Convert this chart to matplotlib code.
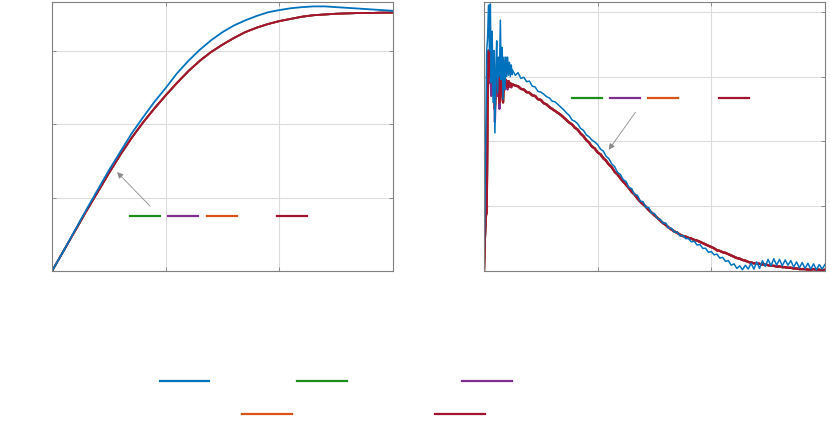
import numpy as np
import matplotlib
matplotlib.use('Agg')
import matplotlib.pyplot as plt
from matplotlib.lines import Line2D

# colours (MATLAB default order)
c_blue = '#0072BD'
c_green = '#1A8F1A'
c_purple = '#7E2F8E'
c_orange = '#D95319'
c_red = '#A2142F'
c_axis = '#808080'
c_grid = '#DCDCDC'

# ---- left panel: smooth step responses ----
t_left = np.round(np.arange(0, 3.01, 0.1), 2)
blue_left = [0.00, 0.27, 0.55, 0.83, 1.10, 1.37, 1.62, 1.87, 2.09, 2.30,
             2.49, 2.69, 2.86, 3.01, 3.14, 3.25, 3.34, 3.41, 3.47, 3.52,
             3.55, 3.575, 3.59, 3.60, 3.60, 3.59, 3.58, 3.57, 3.56, 3.55, 3.54]
red_left = [0.00, 0.27, 0.54, 0.81, 1.07, 1.33, 1.58, 1.81, 2.02, 2.21,
            2.39, 2.56, 2.72, 2.86, 2.98, 3.08, 3.17, 3.25, 3.31, 3.36,
            3.40, 3.43, 3.46, 3.48, 3.49, 3.50, 3.505, 3.51, 3.51, 3.515, 3.515]

# ---- right panel: noisy decay ----
t_early = np.round(np.arange(0, 0.249, 0.008), 3)
t_late = np.round(np.arange(0.25, 3.001, 0.025), 3)
t_right = np.concatenate([t_early, t_late])

blue_early = [0.0, 0.9, 2.2, 3.4, 3.6, 4.1, 3.4, 4.12, 2.9, 3.7,
              2.6, 3.4, 2.13, 3.1, 3.55, 2.75, 3.3, 3.0, 3.87, 2.95,
              3.45, 2.65, 3.3, 2.8, 3.3, 3.0, 3.3, 3.02, 3.22, 3.0,
              3.18, 3.03]
red_early = [0.0, 0.5, 0.85, 0.9, 2.6, 3.4, 3.0, 3.5, 2.9, 3.3,
             2.9, 3.2, 2.5, 2.9, 3.1, 2.75, 3.0, 2.6, 3.0, 2.9,
             2.75, 2.6, 2.95, 2.85, 2.95, 2.92, 2.83, 2.93, 2.86, 2.9,
             2.84, 2.88]
purple_early = [0.0, 0.5, 0.8, 1.0, 2.5, 3.3, 2.9, 3.4, 2.7, 3.2,
                2.8, 3.1, 2.3, 2.8, 3.0, 2.7, 2.95, 2.5, 2.95, 2.85,
                2.7, 2.75, 2.9, 2.8, 2.9, 2.87, 2.8, 2.9, 2.84, 2.88,
                2.83, 2.87]

blue_late = [3.10, 3.02, 3.06, 2.97, 2.99, 2.92, 2.93, 2.85, 2.84, 2.77,
             2.76, 2.73, 2.69, 2.67, 2.62, 2.61, 2.57, 2.53, 2.49, 2.44,
             2.40, 2.33, 2.31, 2.27, 2.20, 2.17, 2.10, 2.07, 2.02, 1.99,
             1.95, 1.88, 1.85, 1.77, 1.73, 1.65, 1.61, 1.52, 1.49, 1.41,
             1.38, 1.29, 1.27, 1.18, 1.17, 1.08, 1.07, 0.98, 0.98, 0.89,
             0.89, 0.81, 0.80, 0.74, 0.74, 0.66, 0.66, 0.60, 0.60, 0.54,
             0.55, 0.50, 0.50, 0.45, 0.46, 0.40, 0.41, 0.35, 0.35, 0.29,
             0.30, 0.25, 0.26, 0.20, 0.21, 0.15, 0.16, 0.09, 0.11, 0.04,
             0.08, 0.02, 0.09, 0.03, 0.12, 0.03, 0.14, 0.04, 0.16, 0.07,
             0.18, 0.08, 0.19, 0.09, 0.18, 0.08, 0.17, 0.09, 0.16, 0.06,
             0.14, 0.05, 0.13, 0.04, 0.12, 0.03, 0.11, 0.02, 0.10, 0.03, 0.10]
red_late = [2.88, 2.86, 2.85, 2.81, 2.80, 2.76, 2.75, 2.71, 2.70, 2.65,
            2.64, 2.59, 2.57, 2.53, 2.50, 2.47, 2.44, 2.41, 2.37, 2.33,
            2.29, 2.26, 2.21, 2.18, 2.12, 2.08, 2.02, 1.98, 1.92, 1.89,
            1.83, 1.80, 1.74, 1.70, 1.64, 1.60, 1.53, 1.49, 1.43, 1.38,
            1.33, 1.28, 1.22, 1.18, 1.12, 1.07, 1.03, 0.99, 0.94, 0.90,
            0.86, 0.82, 0.78, 0.74, 0.71, 0.67, 0.64, 0.61, 0.59, 0.56,
            0.54, 0.53, 0.51, 0.50, 0.48, 0.47, 0.45, 0.43, 0.41, 0.39,
            0.37, 0.35, 0.32, 0.31, 0.29, 0.28, 0.26, 0.24, 0.22, 0.20,
            0.19, 0.17, 0.16, 0.14, 0.13, 0.12, 0.12, 0.11, 0.10, 0.10,
            0.09, 0.08, 0.08, 0.07, 0.07, 0.06, 0.06, 0.05, 0.05, 0.04,
            0.04, 0.03, 0.03, 0.03, 0.02, 0.02, 0.03, 0.02, 0.02, 0.01, 0.02]

blue_right = blue_early + blue_late
red_right = red_early + red_late
purple_right = purple_early + red_late


def style_axes(ax, xmax, ymax, yticks):
    ax.set_xlim(0, xmax)
    ax.set_ylim(0, ymax)
    ax.set_xticks([0, 1, 2, 3])
    ax.set_yticks(yticks)
    ax.set_xticklabels([])
    ax.set_yticklabels([])
    ax.grid(True, color=c_grid, linewidth=0.8)
    ax.set_axisbelow(True)
    ax.tick_params(direction='in', length=3, color=c_axis, width=0.6,
                   top=True, right=True)
    for s in ax.spines.values():
        s.set_color(c_axis)
        s.set_linewidth(0.8)


def inline_key(ax, y, spans, colors):
    for (x0, x1), c in zip(spans, colors):
        ax.add_line(Line2D([x0, x1], [y, y], transform=ax.transAxes,
                           color=c, linewidth=1.6, clip_on=False))


fig = plt.figure(figsize=(8.3, 4.23), dpi=100)
ax1 = fig.add_axes([0.0627, 0.3593, 0.4108, 0.636])
ax2 = fig.add_axes([0.5831, 0.3593, 0.4108, 0.636])

# left
ax1.plot(t_left, red_left, color=c_green, linewidth=1.3)
ax1.plot(t_left, red_left, color=c_purple, linewidth=1.3)
ax1.plot(t_left, red_left, color=c_orange, linewidth=1.3)
ax1.plot(t_left, red_left, color=c_red, linewidth=1.3)
ax1.plot(t_left, blue_left, color=c_blue, linewidth=1.3)
style_axes(ax1, 3, 3.66, [0, 1, 2, 3])
ax1.annotate('', xy=(0.185, 0.375), xytext=(0.293, 0.234),
             xycoords='axes fraction', textcoords='axes fraction',
             arrowprops=dict(arrowstyle='-|>', color='#8a8a8a', lw=0.6,
                             mutation_scale=9))
inline_key(ax1, 0.2045,
           [(0.229, 0.317), (0.340, 0.428), (0.4545, 0.5425), (0.660, 0.748)],
           [c_green, c_purple, c_orange, c_red])

# right
ax2.plot(t_right, red_right, color=c_green, linewidth=1.6)
ax2.plot(t_right, purple_right, color=c_purple, linewidth=1.6)
ax2.plot(t_right, red_right, color=c_orange, linewidth=1.6)
ax2.plot(t_right, red_right, color=c_red, linewidth=1.6)
ax2.plot(t_right, blue_right, color=c_blue, linewidth=1.1)
style_axes(ax2, 3, 4.15, [0, 1, 2, 3, 4])
ax2.annotate('', xy=(0.361, 0.442), xytext=(0.449, 0.5985),
             xycoords='axes fraction', textcoords='axes fraction',
             arrowprops=dict(arrowstyle='-|>', color='#8a8a8a', lw=0.6,
                             mutation_scale=9))
inline_key(ax2, 0.643,
           [(0.258, 0.346), (0.3695, 0.4575), (0.481, 0.569), (0.689, 0.777)],
           [c_green, c_purple, c_orange, c_red])

# bottom legend keys
legend_keys = [(0.0993, 0.1928, 0.2518, c_blue),
               (0.0993, 0.3578, 0.4180, c_green),
               (0.0993, 0.5566, 0.6169, c_purple),
               (0.0213, 0.2916, 0.3518, c_orange),
               (0.0213, 0.5240, 0.5843, c_red)]
for y, x0, x1, c in legend_keys:
    fig.add_artist(Line2D([x0, x1], [y, y], transform=fig.transFigure,
                          color=c, linewidth=1.6))

fig.savefig('out.png', dpi=100)
